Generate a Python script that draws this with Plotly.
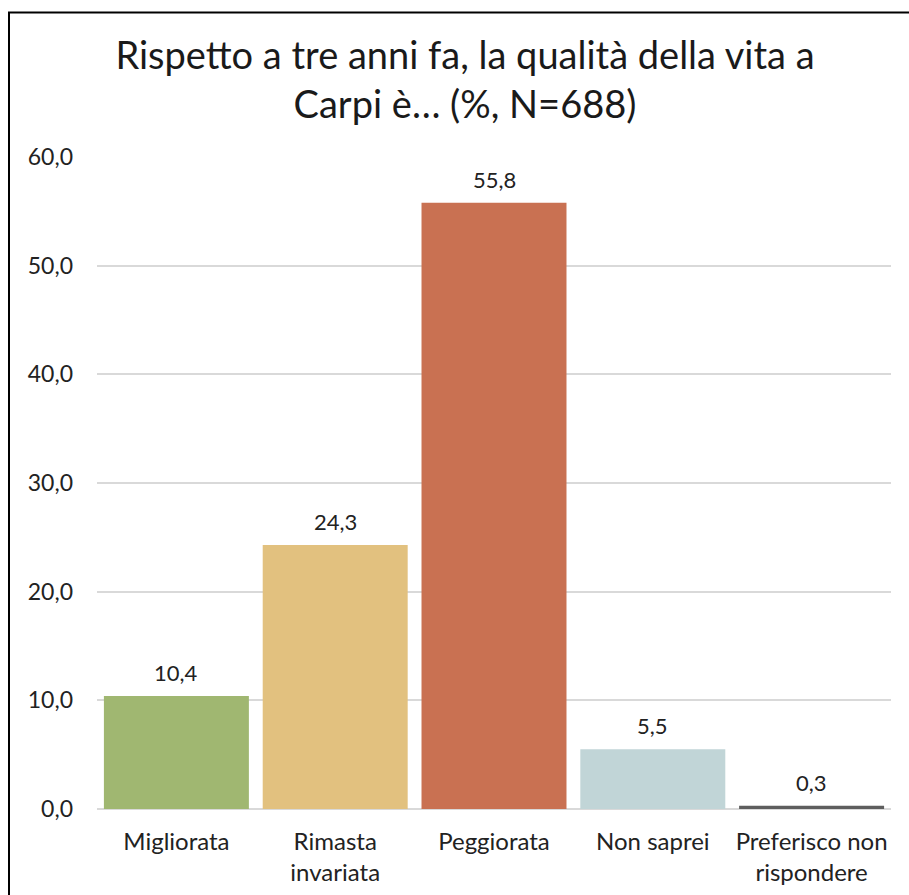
import plotly.graph_objects as go

categories = ["Migliorata", "Rimasta<br>invariata", "Peggiorata", "Non saprei", "Preferisco non<br>rispondere"]
values = [10.4, 24.3, 55.8, 5.5, 0.3]
colors = ["#A0B771", "#E2C17F", "#C97152", "#C1D5D7", "#5E5E5E"]
y_ticks = [0, 10, 20, 30, 40, 50, 60]

W, H = 909, 895
L, R, T, B = 97, 18, 157, 86

fig = go.Figure(go.Bar(
    x=categories, y=values, marker=dict(color=colors, line=dict(width=0)),
    width=0.913, hoverinfo="x+y",
))

for c, v in zip(categories, values):
    fig.add_annotation(x=c, y=v, text=f"{v:.1f}".replace(".", ","), showarrow=False,
                       yanchor="bottom", yshift=8, font=dict(size=22, color="#222222"))

pw = W - L - R
ph = H - T - B
fig.add_shape(type="rect", xref="paper", yref="paper",
              x0=(9 - L) / pw, x1=2.0, y0=-2.0, y1=(H - B - 12.5) / ph,
              line=dict(color="black", width=2), fillcolor="rgba(0,0,0,0)", layer="above")

fig.update_layout(
    width=W, height=H, margin=dict(l=L, r=R, t=T, b=B, autoexpand=False),
    paper_bgcolor="white", plot_bgcolor="white",
    separators=",.",
    font=dict(family="Lato, sans-serif", color="#222222"),
    title=dict(text="Rispetto a tre anni fa, la qualità della vita a<br>Carpi è… (%, N=688)",
               x=465 / W, xanchor="center", y=1 - 69 / H, yanchor="top",
               font=dict(size=38, color="#1A1A1A")),
    showlegend=False,
    bargap=0.087,
)
fig.update_yaxes(range=[0, 60], tickvals=y_ticks, tickformat=".1f",
                 showgrid=True, gridcolor="#D9D9D9", gridwidth=1.5,
                 zeroline=True, zerolinecolor="#D9D9D9", zerolinewidth=1.5,
                 tickfont=dict(size=23, color="#222222"), ticks="", ticklabelstandoff=23,
                 showline=False)
fig.update_xaxes(tickfont=dict(size=24, color="#222222"), showline=False, ticks="",
                 ticklabelstandoff=16)

fig.write_html("out.html", config={"displayModeBar": False},
               post_script="document.body.style.margin='0';")
